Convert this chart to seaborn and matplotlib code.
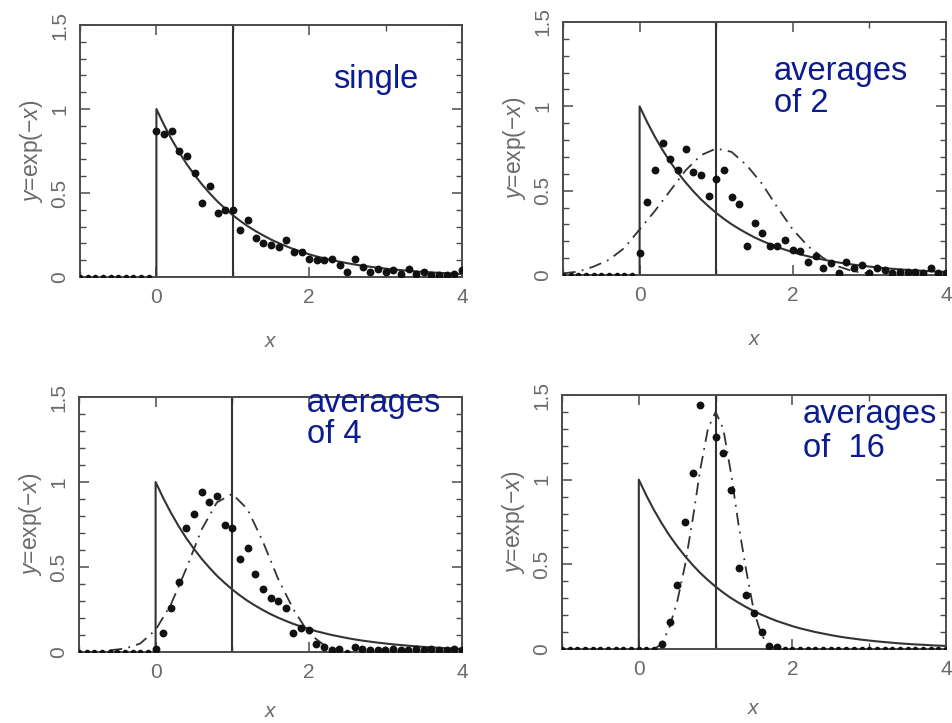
import numpy as np
import pandas as pd
import matplotlib
matplotlib.use("Agg")
import matplotlib.pyplot as plt
from matplotlib.ticker import MultipleLocator
import seaborn as sns

# ---------------- data ----------------
x_grid = np.round(np.linspace(-1, 4, 51), 2)          # sample positions, step 0.1
neg_part = [0.0] * 10                                  # x = -1.0 ... -0.1

single = neg_part + [
    0.87, 0.85, 0.87, 0.75, 0.72, 0.62, 0.44, 0.54, 0.38, 0.40, 0.40,
    0.28, 0.34, 0.23, 0.20, 0.19, 0.18, 0.22, 0.15, 0.15, 0.11,
    0.10, 0.10, 0.11, 0.07, 0.03, 0.11, 0.06, 0.03, 0.05, 0.03,
    0.04, 0.02, 0.05, 0.02, 0.03, 0.01, 0.01, 0.01, 0.02, 0.04]
avg2 = neg_part + [
    0.13, 0.43, 0.62, 0.78, 0.69, 0.62, 0.75, 0.61, 0.59, 0.47, 0.57,
    0.62, 0.46, 0.42, 0.17, 0.31, 0.25, 0.17, 0.17, 0.21, 0.15,
    0.14, 0.08, 0.11, 0.04, 0.07, 0.01, 0.08, 0.04, 0.06, 0.01,
    0.04, 0.03, 0.01, 0.02, 0.02, 0.02, 0.01, 0.04, 0.01, 0.01]
avg4 = neg_part + [
    0.02, 0.11, 0.26, 0.41, 0.73, 0.81, 0.94, 0.88, 0.92, 0.75, 0.73,
    0.55, 0.61, 0.46, 0.37, 0.32, 0.30, 0.26, 0.11, 0.14, 0.13,
    0.05, 0.03, 0.01, 0.02, 0.00, 0.03, 0.02, 0.01, 0.01, 0.01,
    0.02, 0.01, 0.01, 0.02, 0.01, 0.02, 0.01, 0.01, 0.02, 0.01]
avg16 = neg_part + [
    0.00, 0.00, 0.00, 0.03, 0.16, 0.38, 0.75, 1.04, 1.44, 1.70, 1.25,
    1.16, 0.94, 0.48, 0.32, 0.21, 0.10, 0.02, 0.01, 0.00, 0.00,
    0.00, 0.00, 0.00, 0.00, 0.00, 0.00, 0.00, 0.00, 0.00, 0.00,
    0.00, 0.00, 0.00, 0.00, 0.00, 0.00, 0.00, 0.00, 0.00, 0.00]

# solid curve y = exp(-x), x = 0 ... 4 step 0.1 (with the jump at x = 0)
exp_x = [0.0] + list(np.round(np.linspace(0, 4, 41), 2))
exp_y = [0.0] + [
    1.00, 0.905, 0.819, 0.741, 0.670, 0.607, 0.549, 0.497, 0.449, 0.407, 0.368,
    0.333, 0.301, 0.273, 0.247, 0.223, 0.202, 0.183, 0.165, 0.150, 0.135,
    0.122, 0.111, 0.100, 0.091, 0.082, 0.074, 0.067, 0.061, 0.055, 0.050,
    0.045, 0.041, 0.037, 0.033, 0.030, 0.027, 0.025, 0.022, 0.020, 0.018]

# dash-dot approximating curves
g2_x = [-1.0, -0.8, -0.6, -0.4, -0.2, 0.0, 0.2, 0.4, 0.6, 0.8, 1.0,
        1.2, 1.4, 1.6, 1.8, 2.0, 2.2, 2.4, 2.6, 2.8, 3.0]
g2_y = [0.01, 0.02, 0.05, 0.09, 0.16, 0.27, 0.38, 0.50, 0.62, 0.71, 0.75,
        0.73, 0.65, 0.54, 0.40, 0.27, 0.17, 0.10, 0.05, 0.02, 0.01]
g4_x = [-0.6, -0.4, -0.2, 0.0, 0.2, 0.4, 0.6, 0.8, 1.0, 1.2, 1.4,
        1.6, 1.8, 2.0, 2.2, 2.4]
g4_y = [0.01, 0.02, 0.05, 0.13, 0.28, 0.49, 0.72, 0.88, 0.93, 0.84, 0.65,
        0.43, 0.25, 0.11, 0.04, 0.01]
g16_x = [0.2, 0.3, 0.4, 0.5, 0.6, 0.7, 0.8, 0.9, 1.0, 1.1, 1.2,
         1.3, 1.4, 1.5, 1.6, 1.7, 1.8]
g16_y = [0.00, 0.03, 0.13, 0.28, 0.49, 0.76, 1.06, 1.30, 1.40, 1.30, 1.04,
         0.73, 0.46, 0.22, 0.08, 0.02, 0.00]

panel_dots = [single, avg2, avg4, avg16]
panel_curves = [None, (g2_x, g2_y), (g4_x, g4_y), (g16_x, g16_y)]
panel_labels = [["single"], ["averages", "of 2"], ["averages", "of 4"], ["averages", "of  16"]]

y_ticks = [0, 0.5, 1, 1.5]
y_ticklabels = ["0", "0.5", "1", "1.5"]
x_ticks = [0, 2, 4]
x_ticklabels = ["0", "2", "4"]

# ---------------- style ----------------
sns.set_style("ticks")
plt.rcParams["font.family"] = ["Liberation Sans", "DejaVu Sans"]
plt.rcParams["mathtext.fontset"] = "custom"
plt.rcParams["mathtext.rm"] = "Liberation Sans"
plt.rcParams["mathtext.it"] = "Liberation Sans:italic"

W, H = 952, 723
fig = plt.figure(figsize=(W / 100, H / 100), dpi=100)
fig.patch.set_facecolor("white")

# axes boxes in pixels: left, top, right, bottom
rects = [(80, 25, 462, 277), (563, 22, 946, 275),
         (79, 397, 462, 652), (562, 395, 946, 649)]
# x-label offset below each axes, pixels
xlabel_off = [55, 55, 50, 50]
# text positions (left, baselines) in pixels
text_pos = [(333, [88]), (774, [80, 112]), (307, [412, 443]), (803, [423, 457])]

axis_col = "#4a4a4a"
line_col = "#333333"
label_col = "#6a6a6a"
blue = "#0b1c90"

for i, (l, t, r, b) in enumerate(rects):
    ax = fig.add_axes([l / W, 1 - b / H, (r - l) / W, (b - t) / H])
    ax.set_facecolor("white")

    # solid exponential with the vertical jump, and vertical line at x = 1
    sns.lineplot(x=exp_x, y=exp_y, ax=ax, color=line_col, lw=1.5,
                 sort=False, estimator=None)
    ax.axvline(1, color=line_col, lw=1.5)

    curve = panel_curves[i]
    if curve is not None:
        sns.lineplot(x=curve[0], y=curve[1], ax=ax, color=line_col, lw=1.3,
                     sort=False, estimator=None)
        ax.lines[-1].set_linestyle((0, (7, 3.5, 1, 3.5)))

    df = pd.DataFrame({"x": x_grid, "y": panel_dots[i]})
    zero = df[df["y"] <= 0.001]
    nonzero = df[df["y"] > 0.001]
    sns.scatterplot(data=zero, x="x", y="y", ax=ax, color="#111111",
                    s=16, linewidth=0, zorder=4)
    sns.scatterplot(data=nonzero, x="x", y="y", ax=ax, color="#111111",
                    s=32, linewidth=0, zorder=4)

    ax.set_xlim(-1, 4)
    ax.set_ylim(0, 1.5)
    ax.set_yticks(y_ticks)
    ax.set_yticklabels(y_ticklabels, rotation=90, va="center")
    ax.set_xticks(x_ticks)
    ax.set_xticklabels(x_ticklabels)
    ax.yaxis.set_minor_locator(MultipleLocator(0.1))
    ax.set_xticks([-1, 1, 3], minor=True)
    ax.tick_params(which="both", direction="in", top=True, right=True,
                   color=axis_col, labelcolor=label_col, labelsize=15, pad=8)
    ax.tick_params(which="major", length=7, width=1.1)
    ax.tick_params(which="minor", length=4, width=1.0)
    for sp in ax.spines.values():
        sp.set_color(axis_col)
        sp.set_linewidth(1.4)
        sp.set_visible(True)

    ax.set_xlabel(r"$x$", fontsize=15, color=label_col)
    ax.set_ylabel(r"$y$=exp(−$x$)", fontsize=16.5, color=label_col)
    ax.xaxis.set_label_coords(0.5, -xlabel_off[i] / (b - t))
    ax.yaxis.set_label_coords(-35 / (r - l), 0.5)

    tx, bases = text_pos[i]
    for line, yb in zip(panel_labels[i], bases):
        fig.text(tx / W, 1 - yb / H, line, color=blue, fontsize=23.5,
                 ha="left", va="baseline", family=["Liberation Sans", "DejaVu Sans"])

fig.savefig("out.png", dpi=100, facecolor="white")
